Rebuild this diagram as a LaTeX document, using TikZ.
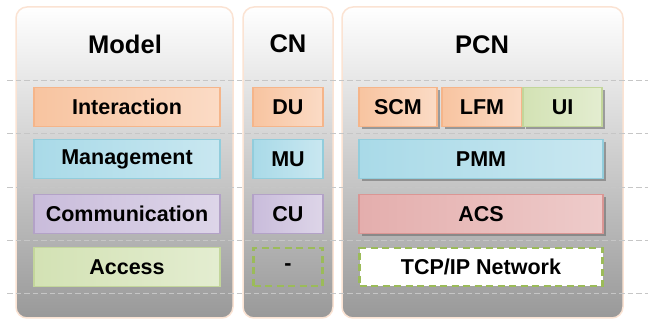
\documentclass[tikz,border=0pt]{standalone}
\usepackage{fontspec}
\setmainfont{Liberation Sans}
\usetikzlibrary{shadows}
\definecolor{colborder}{HTML}{FBE3D3}
\definecolor{sepgray}{HTML}{C6C6C6}
\definecolor{orB}{HTML}{F5B58A}\definecolor{orL}{HTML}{F8C4A0}\definecolor{orR}{HTML}{FDEEE4}
\definecolor{blB}{HTML}{92CDDC}\definecolor{blL}{HTML}{A9DAE8}\definecolor{blR}{HTML}{E3F2F7}
\definecolor{puB}{HTML}{B3A2C7}\definecolor{puL}{HTML}{C9BCDB}\definecolor{puR}{HTML}{EEEAF3}
\definecolor{grB}{HTML}{C3D69B}\definecolor{grL}{HTML}{D3E2B4}\definecolor{grR}{HTML}{F1F6E8}
\definecolor{reB}{HTML}{DA9694}\definecolor{reL}{HTML}{E4AEAD}\definecolor{reR}{HTML}{F6E3E2}
\definecolor{dashgr}{HTML}{9BBB59}
\tikzset{
  column/.style={draw=colborder, line width=1.5pt, rounded corners=11pt,
    top color=white, bottom color=black!40, inner sep=0pt},
  ttl/.style={font=\fontsize{25.5}{30}\selectfont\bfseries, inner sep=0pt},
  box/.style={font=\fontsize{21.5}{26}\selectfont\bfseries, inner sep=0pt,
    line width=1.3pt, minimum height=39pt},
  orbox/.style={box, draw=orB, left color=orL, middle color=orR, right color=orL!45!orR},
  blbox/.style={box, draw=blB, left color=blL, middle color=blR, right color=blL!45!blR},
  pubox/.style={box, draw=puB, left color=puL, middle color=puR, right color=puL!45!puR},
  grbox/.style={box, draw=grB, left color=grL, middle color=grR, right color=grL!45!grR},
  rebox/.style={box, draw=reB, left color=reL, middle color=reR, right color=reL!45!reR},
  dbox/.style={box, draw=dashgr, line width=2.5pt, dash pattern=on 7pt off 4.5pt},
  shd/.style={drop shadow={shadow xshift=2.5pt, shadow yshift=-3pt, fill=black!60, opacity=.55}},
  sepline/.style={draw=sepgray, line width=0.8pt, dash pattern=on 5.5pt off 3pt}
}
\begin{document}
\begin{tikzpicture}[x=1pt,y=-1pt]
\useasboundingbox (0,0) rectangle (648,320);
% columns
\node[column, minimum width=217pt, minimum height=311pt] (colM) at (124.5,162.5) {};
\node[column, minimum width=90pt, minimum height=311pt] (colC) at (288,162.5) {};
\node[column, minimum width=281pt, minimum height=311pt] (colP) at (482.5,162.5) {};
% titles
\node[ttl] (tM) at (125,44) {Model};
\node[ttl] (tC) at (288,44) {CN};
\node[ttl] (tP) at (482,45) {PCN};
% separators
\foreach \yy in {80,133,187,240,293}{
  \draw[sepline] (7,\yy) -- (648,\yy);
}
% Model
\node[orbox, minimum width=186pt] (mI) at (127,107) {Interaction};
\node[blbox, minimum width=186pt] (mM) at (127,159) {Management};
\node[pubox, minimum width=186pt] (mC) at (127,214) {Communication};
\node[grbox, minimum width=186pt] (mA) at (127,267) {Access};
% CN
\node[orbox, minimum width=70pt] (cD) at (288,107) {DU};
\node[blbox, minimum width=70pt] (cM) at (288,159) {MU};
\node[pubox, minimum width=70pt] (cC) at (288,214) {CU};
\node[dbox, minimum width=69pt, minimum height=38pt] (cA) at (288,267) {-};
% PCN
\node[orbox, shd, minimum width=78pt] (pS) at (398,107) {SCM};
\node[orbox, shd, minimum width=80pt] (pL) at (482,107) {LFM};
\node[grbox, shd, minimum width=79pt] (pU) at (562.5,107) {UI};
\node[blbox, shd, minimum width=244pt] (pP) at (481,159) {PMM};
\node[rebox, shd, minimum width=244pt] (pA) at (481,214) {ACS};
\node[dbox, fill=white, minimum width=243pt, minimum height=38pt] (pT) at (481,267) {TCP/IP Network};
\end{tikzpicture}
\end{document}
